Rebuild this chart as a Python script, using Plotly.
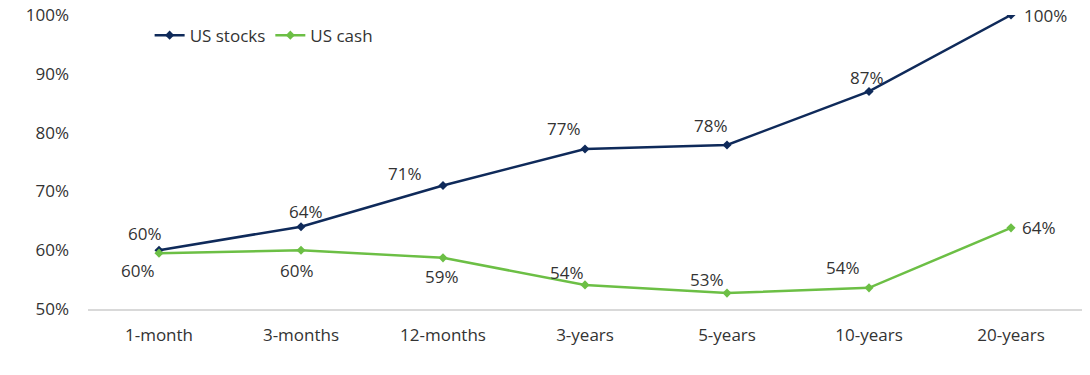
import plotly.graph_objects as go

categories = ["1-month", "3-months", "12-months", "3-years", "5-years", "10-years", "20-years"]
stocks = [60, 64, 71, 77.2, 77.9, 87, 100]
cash = [59.5, 60, 58.7, 54.1, 52.7, 53.6, 63.8]
stocks_labels = ["60%", "64%", "71%", "77%", "78%", "87%", "100%"]
cash_labels = ["60%", "60%", "59%", "54%", "53%", "54%", "64%"]

NAVY = "#0f2a5a"
GREEN = "#6cbf45"
TXT = "#333333"

fig = go.Figure()
fig.add_trace(go.Scatter(x=categories, y=stocks, mode="lines+markers", name="US stocks",
                         line=dict(color=NAVY, width=2.5),
                         marker=dict(symbol="diamond", size=7, color=NAVY)))
fig.add_trace(go.Scatter(x=categories, y=cash, mode="lines+markers", name="US cash",
                         line=dict(color=GREEN, width=2.5),
                         marker=dict(symbol="diamond", size=7, color=GREEN)))

stock_shift = [(-14, 17), (5, 15), (-38, 12), (-21, 21), (-16, 19), (-2, 14), (34, 0)]
cash_shift = [(-21, -17), (-4, -20), (-1, -19), (-18, 12), (-20, 14), (-26, 20), (28, 0)]
anns = []
for i, c in enumerate(categories):
    dx, dy = stock_shift[i]
    anns.append(dict(x=c, y=stocks[i], text=stocks_labels[i], showarrow=False,
                     xshift=dx, yshift=dy, font=dict(size=17, color=TXT)))
    dx, dy = cash_shift[i]
    anns.append(dict(x=c, y=cash[i], text=cash_labels[i], showarrow=False,
                     xshift=dx, yshift=dy, font=dict(size=17, color=TXT)))

fig.update_layout(
    width=1090, height=375,
    margin=dict(l=88, r=8, t=15, b=66, autoexpand=False),
    paper_bgcolor="white", plot_bgcolor="white",
    font=dict(family="Open Sans", size=17, color=TXT),
    annotations=anns,
    showlegend=True,
    legend=dict(orientation="h", x=0.062, y=0.93, xanchor="left", yanchor="middle",
                font=dict(size=17, color=TXT), bgcolor="rgba(0,0,0,0)",
                itemwidth=30, tracegroupgap=0),
    xaxis=dict(type="category", range=[-0.5, 6.5], showgrid=False, automargin=False,
               showline=True, linecolor="#d9d9d9", linewidth=1.5,
               ticks="", tickfont=dict(size=17, color=TXT), ticklabelstandoff=10),
    yaxis=dict(range=[50, 100], dtick=10, ticksuffix="%", showgrid=False, automargin=False,
               zeroline=False, showline=False, tickfont=dict(size=17, color=TXT),
               ticklabelstandoff=18),
)

fig.write_html("out.html", config={"displayModeBar": False},
               post_script="document.body.style.margin='0px';")
